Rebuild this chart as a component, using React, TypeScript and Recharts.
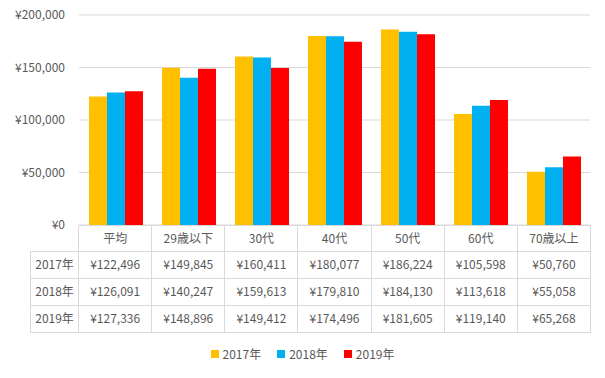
import { BarChart, Bar, XAxis, YAxis, CartesianGrid, Legend } from 'recharts'

const CATEGORIES = ['平均', '29歳以下', '30代', '40代', '50代', '60代', '70歳以上']
const YEARS = ['2017年', '2018年', '2019年']
const Y2017 = [122496, 149845, 160411, 180077, 186224, 105598, 50760]
const Y2018 = [126091, 140247, 159613, 179810, 184130, 113618, 55058]
const Y2019 = [127336, 148896, 149412, 174496, 181605, 119140, 65268]
const Y_TICKS = [0, 50000, 100000, 150000, 200000]
const COLORS = ['#FFC000', '#00B0F0', '#FF0000']

const SERIES = [Y2017, Y2018, Y2019]
const FONT = '"Noto Sans CJK JP", "Noto Sans", sans-serif'
const TEXT = '#595959'
const LINE = '#d9d9d9'

const yen = (v: number) => '¥' + v.toLocaleString('en-US')

const data = CATEGORIES.map((name, i) => ({
  name,
  y2017: Y2017[i],
  y2018: Y2018[i],
  y2019: Y2019[i],
}))

function LegendContent({ payload }: any) {
  return (
    <div style={{ display: 'flex', justifyContent: 'center', gap: 16, fontFamily: FONT, fontSize: 12, color: TEXT }}>
      {(payload || []).map((p: any) => (
        <div key={p.value} style={{ display: 'flex', alignItems: 'center' }}>
          <span style={{ width: 8, height: 8, background: p.color, marginRight: 4, display: 'inline-block' }} />
          <span>{p.value}</span>
        </div>
      ))}
    </div>
  )
}

function DataTable() {
  const cell: React.CSSProperties = {
    borderRight: `1px solid ${LINE}`,
    borderBottom: `1px solid ${LINE}`,
    textAlign: 'center',
    padding: '0 0 3px 0',
    height: 27,
    whiteSpace: 'nowrap',
    boxSizing: 'border-box',
  }
  return (
    <table
      style={{
        position: 'absolute',
        left: 30,
        top: 225,
        width: 561,
        borderCollapse: 'separate',
        borderSpacing: 0,
        tableLayout: 'fixed',
        fontFamily: FONT,
        fontSize: 12,
        color: TEXT,
      }}
    >
      <colgroup>
        <col style={{ width: 49 }} />
        {CATEGORIES.map(c => (
          <col key={c} style={{ width: 73 }} />
        ))}
      </colgroup>
      <tbody>
        <tr>
          <td style={{ ...cell, borderTop: '1px solid transparent' }} />
          {CATEGORIES.map(c => (
            <td key={c} style={{ ...cell, borderTop: `1px solid ${LINE}` }}>{c}</td>
          ))}
        </tr>
        {YEARS.map((y, r) => (
          <tr key={y}>
            <td style={{ ...cell, borderLeft: `1px solid ${LINE}` }}>{y}</td>
            {SERIES[r].map((v, i) => (
              <td key={i} style={cell}>{yen(v)}</td>
            ))}
          </tr>
        ))}
      </tbody>
    </table>
  )
}

export default function App() {
  return (
    <div style={{ position: 'absolute', left: 0, top: 0, width: 605, height: 378, background: '#fff' }}>
      <BarChart
        width={605}
        height={378}
        data={data}
        margin={{ top: 15, right: 15, left: 0, bottom: 153 }}
        barCategoryGap={10}
        barGap={0}
      >
        <CartesianGrid vertical={false} stroke={LINE} />
        <XAxis dataKey="name" hide />
        <YAxis
          width={79}
          domain={[0, 200000]}
          ticks={Y_TICKS}
          tickFormatter={yen}
          axisLine={false}
          tickLine={false}
          tickMargin={8}
          tick={{ fill: TEXT, fontSize: 12, fontFamily: FONT }}
        />
        <Legend verticalAlign="middle" wrapperStyle={{ top: 345, left: 0, width: 605 }} content={<LegendContent />} />
        <Bar dataKey="y2017" name={YEARS[0]} fill={COLORS[0]} isAnimationActive={false} />
        <Bar dataKey="y2018" name={YEARS[1]} fill={COLORS[1]} isAnimationActive={false} />
        <Bar dataKey="y2019" name={YEARS[2]} fill={COLORS[2]} isAnimationActive={false} />
      </BarChart>
      <DataTable />
    </div>
  )
}
